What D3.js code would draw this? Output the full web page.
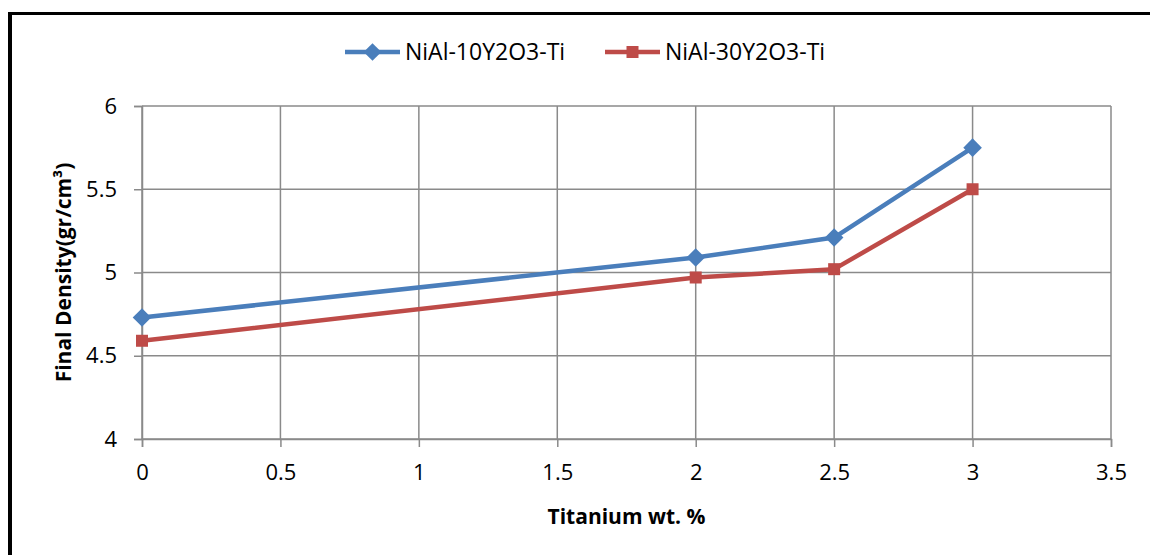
<!DOCTYPE html>
<html>
<head>
<meta charset="utf-8">
<script src="https://cdn.jsdelivr.net/npm/d3@7"></script>
<style>
  html, body { margin: 0; padding: 0; background: #fff; }
  svg { display: block; }
  text { font-family: "Open Sans", "DejaVu Sans", sans-serif; fill: #000; }
</style>
</head>
<body>
<svg id="chart" width="1150" height="555"></svg>
<script>
// ---- data ----
const titanium = [0, 2, 2.5, 3];
const density10 = [4.73, 5.09, 5.21, 5.75];
const density30 = [4.59, 4.97, 5.02, 5.50];
const seriesNames = ["NiAl-10Y2O3-Ti", "NiAl-30Y2O3-Ti"];
const xTicks = [0, 0.5, 1, 1.5, 2, 2.5, 3, 3.5];
const yTicks = [4, 4.5, 5, 5.5, 6];
const xTitle = "Titanium wt. %";
const yTitle = "Final Density(gr/cm³)";

// ---- layout ----
const W = 1150, H = 555;
const plot = { left: 142, right: 1111, top: 106, bottom: 439 };
const colors = ["#4A7EBB", "#BE4B48"];
const gridColor = "#8a8a8a";

const svg = d3.select("#chart");

// outer frame (left and top visible)
svg.append("line").attr("x1", 10).attr("x2", 10).attr("y1", 12).attr("y2", H)
  .attr("stroke", "#000").attr("stroke-width", 4);
svg.append("line").attr("x1", 8).attr("x2", W).attr("y1", 13.5).attr("y2", 13.5)
  .attr("stroke", "#000").attr("stroke-width", 3);

const x = d3.scaleLinear().domain([0, 3.5]).range([plot.left, plot.right]);
const y = d3.scaleLinear().domain([4, 6]).range([plot.bottom, plot.top]);

// gridlines
const grid = svg.append("g");
grid.selectAll(".gx").data(xTicks).join("line")
  .attr("x1", d => x(d)).attr("x2", d => x(d))
  .attr("y1", plot.top).attr("y2", plot.bottom)
  .attr("stroke", gridColor).attr("stroke-width", 1.5);
grid.selectAll(".gy").data(yTicks).join("line")
  .attr("x1", plot.left).attr("x2", plot.right)
  .attr("y1", d => y(d)).attr("y2", d => y(d))
  .attr("stroke", gridColor).attr("stroke-width", 1.5);

// axes
const xAxis = d3.axisBottom(x).tickValues(xTicks).tickSize(8).tickPadding(17)
  .tickFormat(d => String(d));
const gx = svg.append("g").attr("transform", `translate(0,${plot.bottom})`).call(xAxis);
gx.select(".domain").attr("stroke", gridColor).attr("stroke-width", 1.5);
gx.selectAll(".tick line").attr("stroke", gridColor).attr("stroke-width", 1.5);
gx.selectAll(".tick text").style("font-family", "'Open Sans', sans-serif").style("font-size", "22px").attr("fill", "#000");

const yAxis = d3.axisLeft(y).tickValues(yTicks).tickSize(8).tickPadding(17)
  .tickFormat(d => String(d));
const gy = svg.append("g").attr("transform", `translate(${plot.left},0)`).call(yAxis);
gy.select(".domain").attr("stroke", gridColor).attr("stroke-width", 1.5);
gy.selectAll(".tick line").attr("stroke", gridColor).attr("stroke-width", 1.5);
gy.selectAll(".tick text").style("font-family", "'Open Sans', sans-serif").style("font-size", "22px").attr("fill", "#000");

// axis titles
svg.append("text").attr("x", x(1.75)).attr("y", 524).attr("text-anchor", "middle")
  .style("font-size", "21px").style("font-weight", "bold").text(xTitle);
svg.append("text").attr("transform", `translate(71,${(plot.top + plot.bottom) / 2}) rotate(-90)`)
  .attr("text-anchor", "middle")
  .style("font-size", "21px").style("font-weight", "bold").text(yTitle);

// series
const allSeries = [density10, density30];
const line = d3.line().x(d => x(d[0])).y(d => y(d[1]));
const diamond = d3.symbol().type(d3.symbolDiamond2).size(220);

allSeries.forEach((vals, i) => {
  const pts = titanium.map((t, j) => [t, vals[j]]);
  svg.append("path").datum(pts).attr("d", line)
    .attr("fill", "none").attr("stroke", colors[i]).attr("stroke-width", 4.5)
    .attr("stroke-linejoin", "round");
  const g = svg.append("g");
  if (i === 0) {
    g.selectAll("path").data(pts).join("path")
      .attr("transform", d => `translate(${x(d[0])},${y(d[1])})`)
      .attr("d", diamond).attr("fill", colors[i]);
  } else {
    g.selectAll("rect").data(pts).join("rect")
      .attr("x", d => x(d[0]) - 6).attr("y", d => y(d[1]) - 6)
      .attr("width", 12).attr("height", 12).attr("fill", colors[i]);
  }
});

// legend
const legendItems = [
  { name: seriesNames[0], x0: 345, color: colors[0], type: "diamond" },
  { name: seriesNames[1], x0: 605, color: colors[1], type: "square" }
];
const ly = 52;
legendItems.forEach(it => {
  svg.append("line").attr("x1", it.x0).attr("x2", it.x0 + 55).attr("y1", ly).attr("y2", ly)
    .attr("stroke", it.color).attr("stroke-width", 4.5);
  const cx = it.x0 + 27.5;
  if (it.type === "diamond") {
    svg.append("path").attr("transform", `translate(${cx},${ly})`)
      .attr("d", d3.symbol().type(d3.symbolDiamond2).size(200)).attr("fill", it.color);
  } else {
    svg.append("rect").attr("x", cx - 6).attr("y", ly - 6).attr("width", 12).attr("height", 12)
      .attr("fill", it.color);
  }
  svg.append("text").attr("x", it.x0 + 60).attr("y", ly).attr("dy", "0.35em")
    .style("font-size", "23px").text(it.name);
});
</script>
</body>
</html>
